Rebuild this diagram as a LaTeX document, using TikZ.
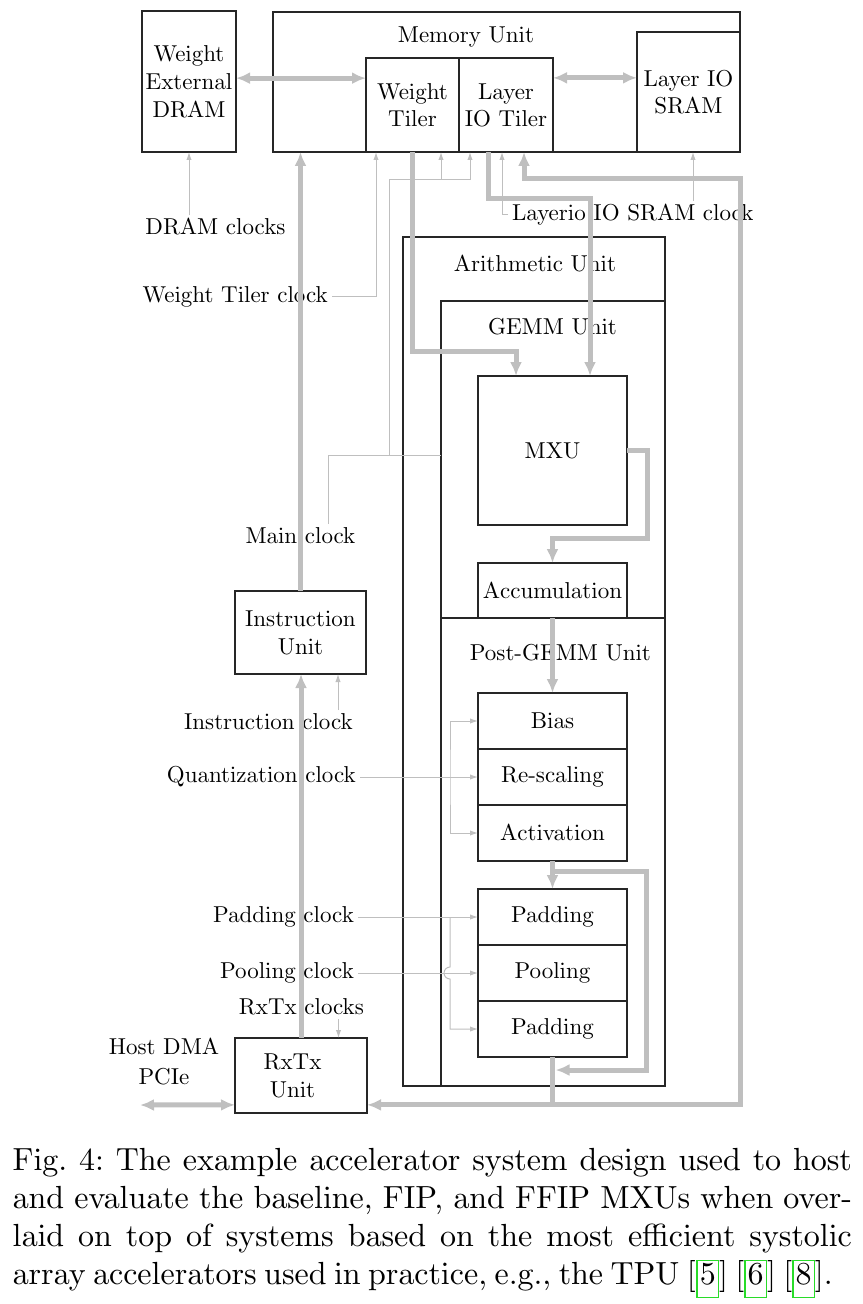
\documentclass[tikz,border=0pt]{standalone}
\usepackage{xcolor}
\usepackage{tikz}
\usetikzlibrary{arrows.meta, calc, positioning}

\newcommand{\pxu}{0.3pt}
\font\diagfont=cmr10 at 6.9pt
\font\capfont=cmr10 at 9.6pt
\definecolor{linkgreen}{RGB}{40,220,40}
\newcommand{\refbox}[1]{{\setlength{\fboxsep}{0pt}\setlength{\fboxrule}{0.4pt}\textcolor{linkgreen}{\fbox{\hspace{0.6pt}\textcolor{black}{#1}\rule[-3.6pt]{0pt}{10.8pt}\hspace{0.6pt}}}}}

\tikzset{
    blk/.style={rectangle, draw=black!85, line width=0.4pt, outer sep=0pt, inner sep=0pt, align=center},
    sz/.style 2 args={minimum width=#1*\pxu, minimum height=#2*\pxu},
    ttl/.style={inner sep=0pt},
    lbl/.style={inner sep=1pt, align=center},
    bus/.style={draw=gray!50, line width=1.5pt, -{Latex[length=4.2pt, width=3.6pt]}},
    bidir/.style={draw=gray!50, line width=1.5pt, {Latex[length=4.2pt, width=3.6pt]}-{Latex[length=4.2pt, width=3.6pt]}},
    clkline/.style={draw=gray!50, line width=0.3pt},
    clk/.style={clkline, -{Latex[length=2.4pt, width=1.6pt]}},
    clkboth/.style={clkline, {Latex[length=2.4pt, width=1.6pt]}-{Latex[length=2.4pt, width=1.6pt]}}
}

\begin{document}
\begin{tikzpicture}[x=\pxu, y=-\pxu, font={\diagfont\setlength{\baselineskip}{8.3pt}}]
    \useasboundingbox (0,0) rectangle (862,1304);

    % memory side
    \node (dram) [blk, sz={94}{141}] at (189,81.5) {Weight\\External\\DRAM};
    \node (mem) [blk, sz={467}{140}] at (506.5,82) {};
    \node (memlbl) [ttl] at (466,37) {Memory Unit};
    \node (wtiler) [blk, sz={93}{94}] at (412.5,105) {Weight\\Tiler};
    \node (liotiler) [blk, sz={94}{94}, right=0pt of wtiler] {Layer\\IO Tiler};
    \node (liosram) [blk, sz={103}{120}] at (688.5,92) {Layer IO\\SRAM};

    % arithmetic side
    \node (arith) [blk, sz={262}{849}] at (534,661.5) {};
    \node (arithlbl) [ttl] at (535,263.5) {Arithmetic Unit};
    \node (gemm) [blk, sz={224}{317}] at (553,459.5) {};
    \node (gemmlbl) [ttl] at (552.5,327) {GEMM Unit};
    \node (mxu) [blk, sz={149}{149}] at (552.5,450.5) {MXU};
    \node (accum) [blk, sz={149}{55}] at (552.5,590.5) {Accumulation};
    \node (postgemm) [blk, sz={224}{468}] at (553,852) {};
    \node (postlbl) [ttl] at (560.5,653) {Post-GEMM Unit};
    \node (bias) [blk, sz={149}{56}] at (552.5,721) {Bias};
    \node (rescale) [blk, sz={149}{56}, below=0pt of bias] {Re-scaling};
    \node (activ) [blk, sz={149}{56}, below=0pt of rescale] {Activation};
    \node (pad1) [blk, sz={149}{56}] at (552.5,917) {Padding};
    \node (pool) [blk, sz={149}{56}, below=0pt of pad1] {Pooling};
    \node (pad2) [blk, sz={149}{56}, below=0pt of pool] {Padding};

    % control and host side
    \node (instr) [blk, sz={131}{83}] at (300.5,632.5) {Instruction\\Unit};
    \node (rxtx) [blk, sz={132}{75}] at (301,1075.5) {RxTx\hspace*{5.1pt}\\Unit\hspace*{5.1pt}};

    % clock labels
    \node (dramclk) [lbl] at (215.5,227) {DRAM clocks};
    \node (wtclk) [lbl, anchor=east] at (332,297) {Weight Tiler clock};
    \node (lioclk) [lbl, anchor=west] at (508,215) {Layerio IO SRAM clock};
    \node (mainclk) [lbl] at (300.5,536) {Main clock};
    \node (instrclk) [lbl, anchor=east] at (357,722) {Instruction clock};
    \node (quantclk) [lbl, anchor=east] at (360,777) {Quantization clock};
    \node (padclk) [lbl, anchor=east] at (358,917) {Padding clock};
    \node (poolclk) [lbl, anchor=east] at (358,973) {Pooling clock};
    \node (rxtxclk) [lbl] at (301.5,1007) {RxTx clocks};
    \node (host) [lbl] at (164,1062) {Host DMA\\[0.7pt]PCIe};
    \coordinate (hostend) at (140,1105);

    % data buses
    \draw[bidir] (dram.east |- wtiler.150) -- (wtiler.150);
    \draw[bidir] (liotiler.30) -- (liotiler.30 -| liosram.west);
    \draw[bus] (wtiler.south) |- ($(mxu.north)+(-36.5,-24.5)$) -- ($(mxu.north)+(-36.5,0)$);
    \draw[bus] ($(liotiler.south)+(-18,0)$) |- ($(mxu.north)+(37.5,-177)$) -- ($(mxu.north)+(37.5,0)$);
    \draw[bus] (mxu.east) -- ++(20,0) |- ($(accum.north)+(0,-25)$) -- (accum.north);
    \draw[bus] (accum.south) -- (bias.north);
    \draw[bus] (activ.south) -- (pad1.north);
    \draw[bus] ($(activ.south)+(0,10)$) -| ($(pad2.south)+(94,13)$) -- ($(pad2.south)+(3,13)$);
    \draw[bus] (pad2.south) |- (rxtx.336);
    \draw[bus] (pad2.south |- rxtx.336) -| ($(liosram.south east)+(0,27)$) -| ($(liotiler.south)+(18,0)$);
    \draw[bus] (instr.north) -- (instr.north |- mem.south);
    \draw[bus] (rxtx.north) -- (rxtx.north |- instr.south);
    \draw[bidir] (hostend) -- (rxtx.204);

    % clocks
    \draw[clk] (dramclk.north -| dram.south) -- (dram.south);
    \draw[clk] (wtclk.east) -| ($(wtiler.south west)+(10,0)$);
    \draw[clkline] ($(mainclk.north)+(28,0)$) |- (gemm.178) coordinate[pos=0.77] (mcj);
    \draw[clk] (mcj) |- ($(liotiler.south)+(-36,28)$) -- ($(liotiler.south)+(-36,0)$);
    \draw[clk] ($(wtiler.south)+(28.5,28)$) -- ($(wtiler.south)+(28.5,0)$);
    \draw[clk] (lioclk.west) -| ($(liotiler.south)+(-4,0)$);
    \path ($(liosram.south)+(4.5,0)$) coordinate (sramin);
    \draw[clk] (lioclk.north -| sramin) -- (sramin);
    \path ($(instr.south)+(37.5,0)$) coordinate (instrin);
    \draw[clk] (instrclk.north -| instrin) -- (instrin);
    \draw[clk] (quantclk.east) -- (quantclk.east -| rescale.west);
    \draw[clkboth] (bias.west) -| ($(rescale.west)+(-28,0)$) |- (activ.west);
    \draw[clk] (padclk.east) -- (padclk.east -| pad1.west);
    \draw[clk] (poolclk.east) -- (poolclk.east -| pool.west);
    \draw[clk] ($(pad1.west)+(-28,0)$) -- ($(pool.west)+(-28,-6)$) arc[start angle=270, end angle=90, radius=6] |- (pad2.west);
    \path ($(rxtx.north)+(37.5,0)$) coordinate (rxtxin);
    \draw[clk] (rxtxclk.south -| rxtxin) -- (rxtxin);

    % caption
    \node (caption) [anchor=north west, inner sep=0pt, align=left, font={\capfont\setlength{\baselineskip}{11.4pt}\frenchspacing}] at (12,1148) {%
        \makebox[252pt][s]{Fig. 4: The example accelerator system design used to host}\\
        \makebox[252pt][s]{and evaluate the baseline, FIP, and FFIP MXUs when over-}\\
        \makebox[252pt][s]{laid on top of systems based on the most efficient systolic}\\
        \makebox[246pt][s]{array accelerators used in practice, e.g., the TPU [\refbox{5}] [\refbox{6}] [\refbox{8}].}};
\end{tikzpicture}
\end{document}
